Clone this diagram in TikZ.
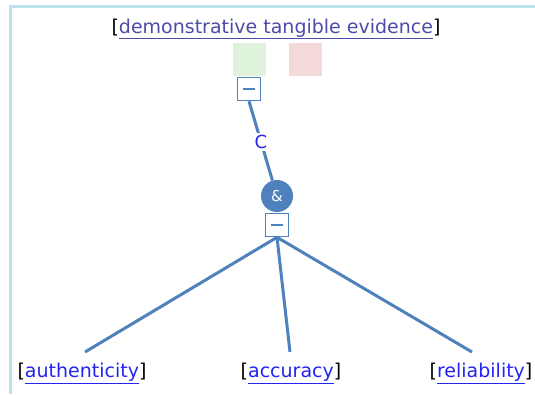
\documentclass[tikz,border=0pt]{standalone}
\usepackage{fontspec}
\setmainfont{DejaVu Sans}
\begin{document}
\begin{tikzpicture}[x=1pt,y=-1pt,
  every node/.style={font=\fontsize{19}{22}\selectfont},
  link/.style={inner sep=1pt},
  conn/.style={draw=edgeblue,line width=3pt},
  minusbox/.style={draw=edgeblue,line width=1.6pt,fill=white,minimum width=23pt,minimum height=23pt,inner sep=0pt},
  swatch/.style={minimum width=33pt,minimum height=33pt,inner sep=0pt}]
\definecolor{edgeblue}{HTML}{4F81BD}
\definecolor{framecyan}{HTML}{BCE3E8}
\definecolor{visited}{HTML}{4B4BA8}
\definecolor{linkblue}{HTML}{2424F0}
\definecolor{okgreen}{HTML}{DFF2DC}
\definecolor{badred}{HTML}{F4D9D9}
\newcommand{\lnk}[2]{[{\color{#1}\underline{#2}}]}
\useasboundingbox (0,0) rectangle (535,394);
% frame edges
\fill[framecyan] (9,5) rectangle (535,7.5);
\fill[framecyan] (9,5) rectangle (11.5,394);
% top claim
\node[link] (top) at (276,29) {\lnk{visited}{demonstrative tangible evidence}};
\node[swatch,fill=okgreen] (g) at (249.5,59.5) {};
\node[swatch,fill=badred] (r) at (305.5,59.5) {};
\node[minusbox] (m1) at (249,89) {};
\draw[edgeblue,line width=2pt] (m1.center) ++(-6,0) -- ++(12,0);
% and node
\node[circle,fill=edgeblue,minimum size=32pt,inner sep=0pt,text=white,font=\fontsize{15}{17}\selectfont] (andc) at (277,196) {\&};
\draw[conn] (m1.south) -- (andc);
\node[fill=white,text=linkblue,inner sep=2pt,font=\fontsize{18}{20}\selectfont] (clab) at (261,142) {C};
\node[minusbox] (m2) at (277,225) {};
\draw[edgeblue,line width=2pt] (m2.center) ++(-6,0) -- ++(12,0);
% leaves
\node[link] (auth) at (82,373.5) {\lnk{linkblue}{authenticity}};
\node[link] (acc) at (291,373.5) {\lnk{linkblue}{accuracy}};
\node[link] (rel) at (481,373.5) {\lnk{linkblue}{reliability}};
\draw[conn] (m2.south) -- (85,352) coordinate (ea);
\draw[conn] (m2.south) -- (290,352) coordinate (eb);
\draw[conn] (m2.south) -- (472,352) coordinate (ec);
\end{tikzpicture}
\end{document}
